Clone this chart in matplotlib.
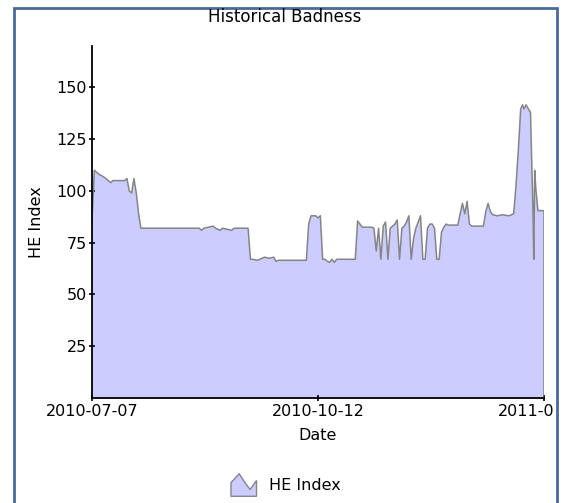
import numpy as np
import pandas as pd
import matplotlib
matplotlib.use("Agg")
import matplotlib.pyplot as plt
import matplotlib.dates as mdates
from matplotlib.patches import Polygon, Rectangle
from matplotlib.legend_handler import HandlerPatch
from matplotlib.transforms import Bbox, TransformedBbox

# data: days since start date, HE index value
start_date = "2010-07-07"
days = [0, 1, 2, 3, 4, 6, 7, 8, 9, 14, 15, 16, 17, 18, 19, 20, 21,
        46, 47, 48, 52, 53, 55, 56, 60, 61, 67, 68, 69, 71, 72, 74, 76, 78, 79, 80,
        92, 93, 94, 96, 97, 98, 99, 100, 101, 102, 103, 104, 105, 113, 114, 115, 116,
        120, 121, 122, 123, 124, 125, 126, 127, 128, 129, 130, 131, 132, 133, 134,
        135, 136, 137, 138, 139, 140, 141, 142, 143, 144, 145, 146, 147, 148, 149,
        150, 151, 152, 153, 157, 158, 159, 160, 161, 162, 163, 168, 169, 170, 171,
        172, 174, 176, 179, 180, 181, 182, 183, 184, 184.8, 185.4, 186.3, 187.3, 188.2,
        189.3, 189.6, 190.0, 190.5, 191.4, 194]
he_index = [86, 110, 109, 108, 107.5, 106, 105, 104, 105, 105, 106, 100, 99, 106, 99, 89, 82,
            82, 81, 82, 83, 82, 81, 82, 81, 82, 82, 67, 67, 66.5, 67, 68, 67.5, 68, 66, 66.5,
            66.5, 84, 88, 88, 87, 88, 67, 67, 66, 65.5, 67, 65.5, 67, 67, 85.5, 84, 82.5,
            82.5, 82, 71, 82, 67, 83, 85, 67, 82, 83, 84, 86, 67, 82, 83,
            85, 88, 67, 77, 82, 85, 88, 67, 67, 82, 84, 84, 82, 67, 67,
            80, 82.5, 84, 83.5, 83.5, 89, 94, 89, 95, 84, 83, 83, 90, 94, 90,
            88.5, 88, 88.5, 88, 88.5, 89, 103, 120, 139.6, 141.6, 139.6, 141.6, 139.6, 138,
            89, 67, 110, 101, 90.5, 90.5]
tick_dates = ["2010-07-07", "2010-10-12", "2011-01-17"]
y_ticks = [25, 50, 75, 100, 125, 150]

fill_color = "#ccccff"
line_color = "#858585"
frame_color = "#4a6a9c"

dates = pd.Timestamp(start_date) + pd.to_timedelta(np.array(days), unit="D")
dates = dates.to_pydatetime()


class AreaHandler(HandlerPatch):
    def create_artists(self, legend, orig_handle, xdescent, ydescent,
                       width, height, fontsize, trans):
        shape = np.array([[0, 0], [0, 0.6], [0.32, 1.0], [0.55, 0.6],
                          [0.75, 0.3], [1, 0.7], [1, 0]])
        pts = np.column_stack([shape[:, 0] * width - xdescent,
                               shape[:, 1] * height - ydescent])
        p = Polygon(pts, closed=True, facecolor=fill_color,
                    edgecolor=line_color, lw=1.0, transform=trans)
        return [p]


fig = plt.figure(figsize=(5.67, 5.03), dpi=100)
ax = fig.add_axes([92 / 567, 105 / 503, 452 / 567, 352 / 503])

ax.fill_between(dates, he_index, 0, facecolor=fill_color, lw=0)
ax.plot(dates, he_index, color=line_color, lw=1.1)
ax.vlines(dates[-1], 0, he_index[-1], color=line_color, lw=1.1)

ax.set_xlim(pd.Timestamp(tick_dates[0]), pd.Timestamp(tick_dates[-1]))
ax.set_ylim(0, 170)
ax.set_xticks([pd.Timestamp(d) for d in tick_dates])
ax.xaxis.set_major_formatter(mdates.DateFormatter("%Y-%m-%d"))
ax.set_yticks(y_ticks)

for s in ["top", "right"]:
    ax.spines[s].set_visible(False)
for s in ["left", "bottom"]:
    ax.spines[s].set_linewidth(1.3)
ax.tick_params(direction="inout", length=5, width=1.2, labelsize=11.5,
               colors="black", pad=1)
ax.tick_params(axis="x", pad=2)

ax.set_xlabel("Date", fontsize=11.5, labelpad=6)
ax.set_ylabel("HE Index", fontsize=11.5, labelpad=9)
fig.text(285 / 567, 1 - 17 / 503, "Historical Badness", ha="center", va="center",
         fontsize=12)

# the last date label is cut by the outer frame, as in the original
inner = TransformedBbox(Bbox([[0, 0], [555 / 567, 1]]), fig.transFigure)
last_lbl = ax.get_xticklabels()[-1]
last_lbl.set_clip_box(inner)
last_lbl.set_clip_on(True)

handle = Polygon([[0, 0]], facecolor=fill_color, edgecolor=line_color)
fig.legend([handle], ["HE Index"], handler_map={Polygon: AreaHandler()},
           loc="center", bbox_to_anchor=(286 / 567, 1 - 485 / 503),
           frameon=False, fontsize=11.5, handlelength=1.6, handleheight=1.8,
           handletextpad=0.8)

# outer frame around the chart
fig.patches.append(Rectangle((14 / 567, -0.05), 543 / 567, 1.05 - 8 / 503,
                             transform=fig.transFigure, fill=False,
                             edgecolor=frame_color, lw=2))

fig.savefig("out.png", dpi=100)
